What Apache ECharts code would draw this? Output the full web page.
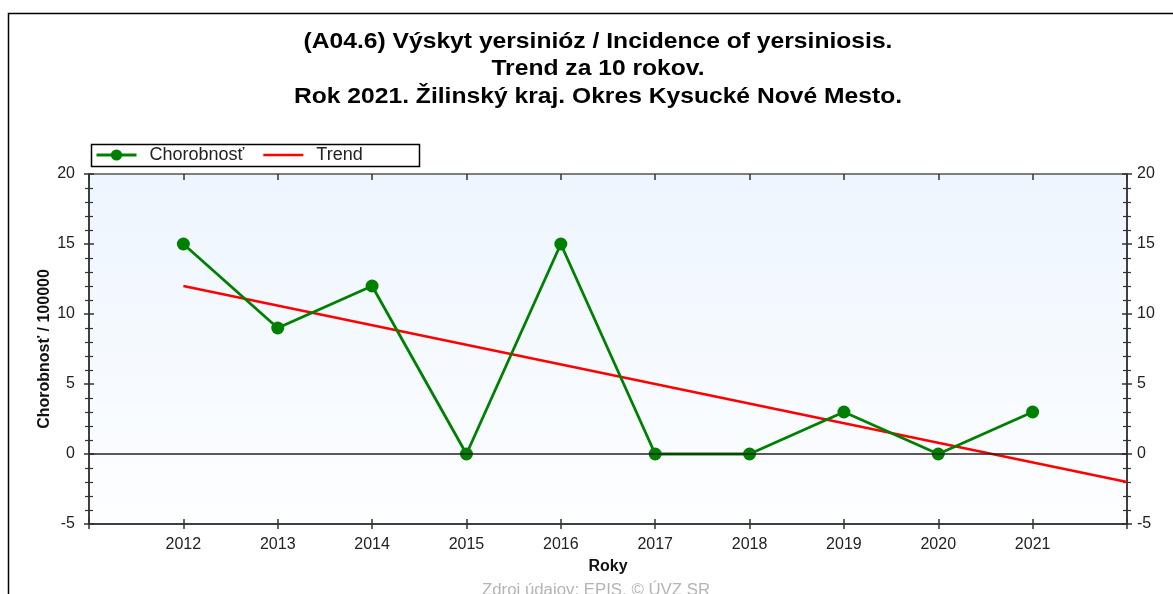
<!DOCTYPE html>
<html>
<head>
<meta charset="utf-8">
<script src="https://cdn.jsdelivr.net/npm/echarts@6/dist/echarts.min.js"></script>
<style>
html,body{margin:0;padding:0;background:#fff;}
#chart{width:1173px;height:594px;}
</style>
</head>
<body>
<div id="chart"></div>
<script>
const years = [2012, 2013, 2014, 2015, 2016, 2017, 2018, 2019, 2020, 2021];
const incidence = [15, 9, 12, 0, 15, 0, 0, 3, 0, 3];
const trendYears = [2012, 2022];
const trendValues = [12, -2];
const titleLines = [
  '(A04.6) Výskyt yersinióz / Incidence of yersiniosis.',
  'Trend za 10 rokov.',
  'Rok 2021. Žilinský kraj. Okres Kysucké Nové Mesto.'
];
const yTicks = [-5, 0, 5, 10, 15, 20];

const FONT = 'Liberation Sans, Arial, sans-serif';
const chart = echarts.init(document.getElementById('chart'), null, {renderer: 'canvas'});

const labelColor = '#222';
const axisColor = '#333';

function yAxisDef(pos, inside, labels, extra) {
  return Object.assign({
    type: 'value', position: pos, min: yTicks[0], max: yTicks[yTicks.length - 1], interval: 5,
    axisLine: {show: true, onZero: false, lineStyle: {color: axisColor, width: 1.5}},
    axisTick: {show: true, inside: inside, length: 5, lineStyle: {color: axisColor, width: 1.5}},
    minorTick: {show: true, splitNumber: 5, length: 4, lineStyle: {color: axisColor, width: 1.2}},
    axisLabel: {show: labels, color: labelColor, fontSize: 16, fontFamily: FONT, margin: pos === 'left' ? 14 : 10},
    splitLine: {show: false}
  }, extra || {});
}

function xAxisDef(pos, inside, labels, extra) {
  return Object.assign({
    type: 'value', position: pos, min: 2011, max: 2022, interval: 1,
    axisLine: {show: true, onZero: false, lineStyle: {color: pos === 'top' ? '#555' : axisColor, width: 1.5}},
    axisTick: {show: true, inside: inside, length: pos === 'top' ? 6 : 5, lineStyle: {color: axisColor, width: 1.5}},
    axisLabel: {
      show: labels, color: labelColor, fontSize: 16, fontFamily: FONT, margin: 13,
      formatter: function (v) { return years.indexOf(v) >= 0 ? String(v) : ''; }
    },
    splitLine: {show: false}
  }, extra || {});
}

function titleText(i, y) {
  return {type: 'text', x: 598, y: y, scaleX: 1.12, silent: true,
    style: {text: titleLines[i], x: 0, y: 0, font: 'bold 22px ' + FONT, fill: '#000', align: 'center', verticalAlign: 'middle'}};
}

const option = {
  animation: false,
  backgroundColor: '#fff',
  grid: {
    left: 89, right: 46, top: 174, bottom: 70, show: true, borderWidth: 0,
    backgroundColor: {
      type: 'linear', x: 0, y: 0, x2: 0, y2: 1,
      colorStops: [{offset: 0, color: '#edf5fe'}, {offset: 1, color: '#fdfeff'}]
    }
  },
  legend: {
    data: [
      {name: 'Chorobnosť'},
      {name: 'Trend', icon: 'path://M0,0L40,0L40,2.6L0,2.6Z'}
    ],
    left: 95, top: 146, padding: 0,
    itemWidth: 40, itemHeight: 14, itemGap: 19,
    lineStyle: {width: 3},
    textStyle: {fontSize: 18, color: labelColor, fontFamily: FONT, padding: [0, 0, 0, 8]}
  },
  xAxis: [
    xAxisDef('bottom', false, true, {
      name: 'Roky', nameLocation: 'middle', nameGap: 35,
      nameTextStyle: {fontSize: 16, fontWeight: 'bold', color: '#111', fontFamily: FONT}
    }),
    xAxisDef('bottom', true, false),
    xAxisDef('top', true, false)
  ],
  yAxis: [
    yAxisDef('left', false, true, {
      name: 'Chorobnosť / 100000', nameLocation: 'middle', nameGap: 36, nameRotate: 90,
      nameMoveOverlap: false,
      nameTextStyle: {fontSize: 16, fontWeight: 'bold', color: '#111', fontFamily: FONT}
    }),
    yAxisDef('left', true, false),
    yAxisDef('right', false, true),
    yAxisDef('right', true, false)
  ],
  series: [
    {
      name: 'Trend', type: 'line', xAxisIndex: 0, yAxisIndex: 0,
      data: trendYears.map((y, i) => [y, trendValues[i]]),
      symbol: 'none', color: '#ff0000',
      lineStyle: {color: '#ff0000', width: 2.6},
      markLine: {
        silent: true, symbol: ['none', 'none'], label: {show: false},
        lineStyle: {color: '#222', width: 1.5, type: 'solid'},
        data: [{yAxis: 0}]
      },
      z: 2
    },
    {
      name: 'Chorobnosť', type: 'line', xAxisIndex: 0, yAxisIndex: 0,
      data: years.map((y, i) => [y, incidence[i]]),
      symbol: 'circle', symbolSize: 13, color: '#008000',
      itemStyle: {color: '#008000'},
      lineStyle: {color: '#008000', width: 2.8},
      z: 3
    }
  ],
  graphic: [
    {type: 'rect', left: 6, top: 11, shape: {width: 1300, height: 800}, style: {fill: 'none', stroke: '#000', lineWidth: 1.5}, silent: true, z: -10},
    {type: 'rect', left: 89, top: 142, shape: {width: 328, height: 22}, style: {fill: 'none', stroke: '#000', lineWidth: 1.5}, silent: true},
    titleText(0, 42),
    titleText(1, 69),
    titleText(2, 97),
    {type: 'text', x: 596, y: 591, scaleX: 1.05, silent: true,
      style: {text: 'Zdroj údajov: EPIS, © ÚVZ SR', x: 0, y: 0, font: '16px ' + FONT, fill: '#b4b4b4', align: 'center', verticalAlign: 'middle'}}
  ]
};
chart.setOption(option);
</script>
</body>
</html>
